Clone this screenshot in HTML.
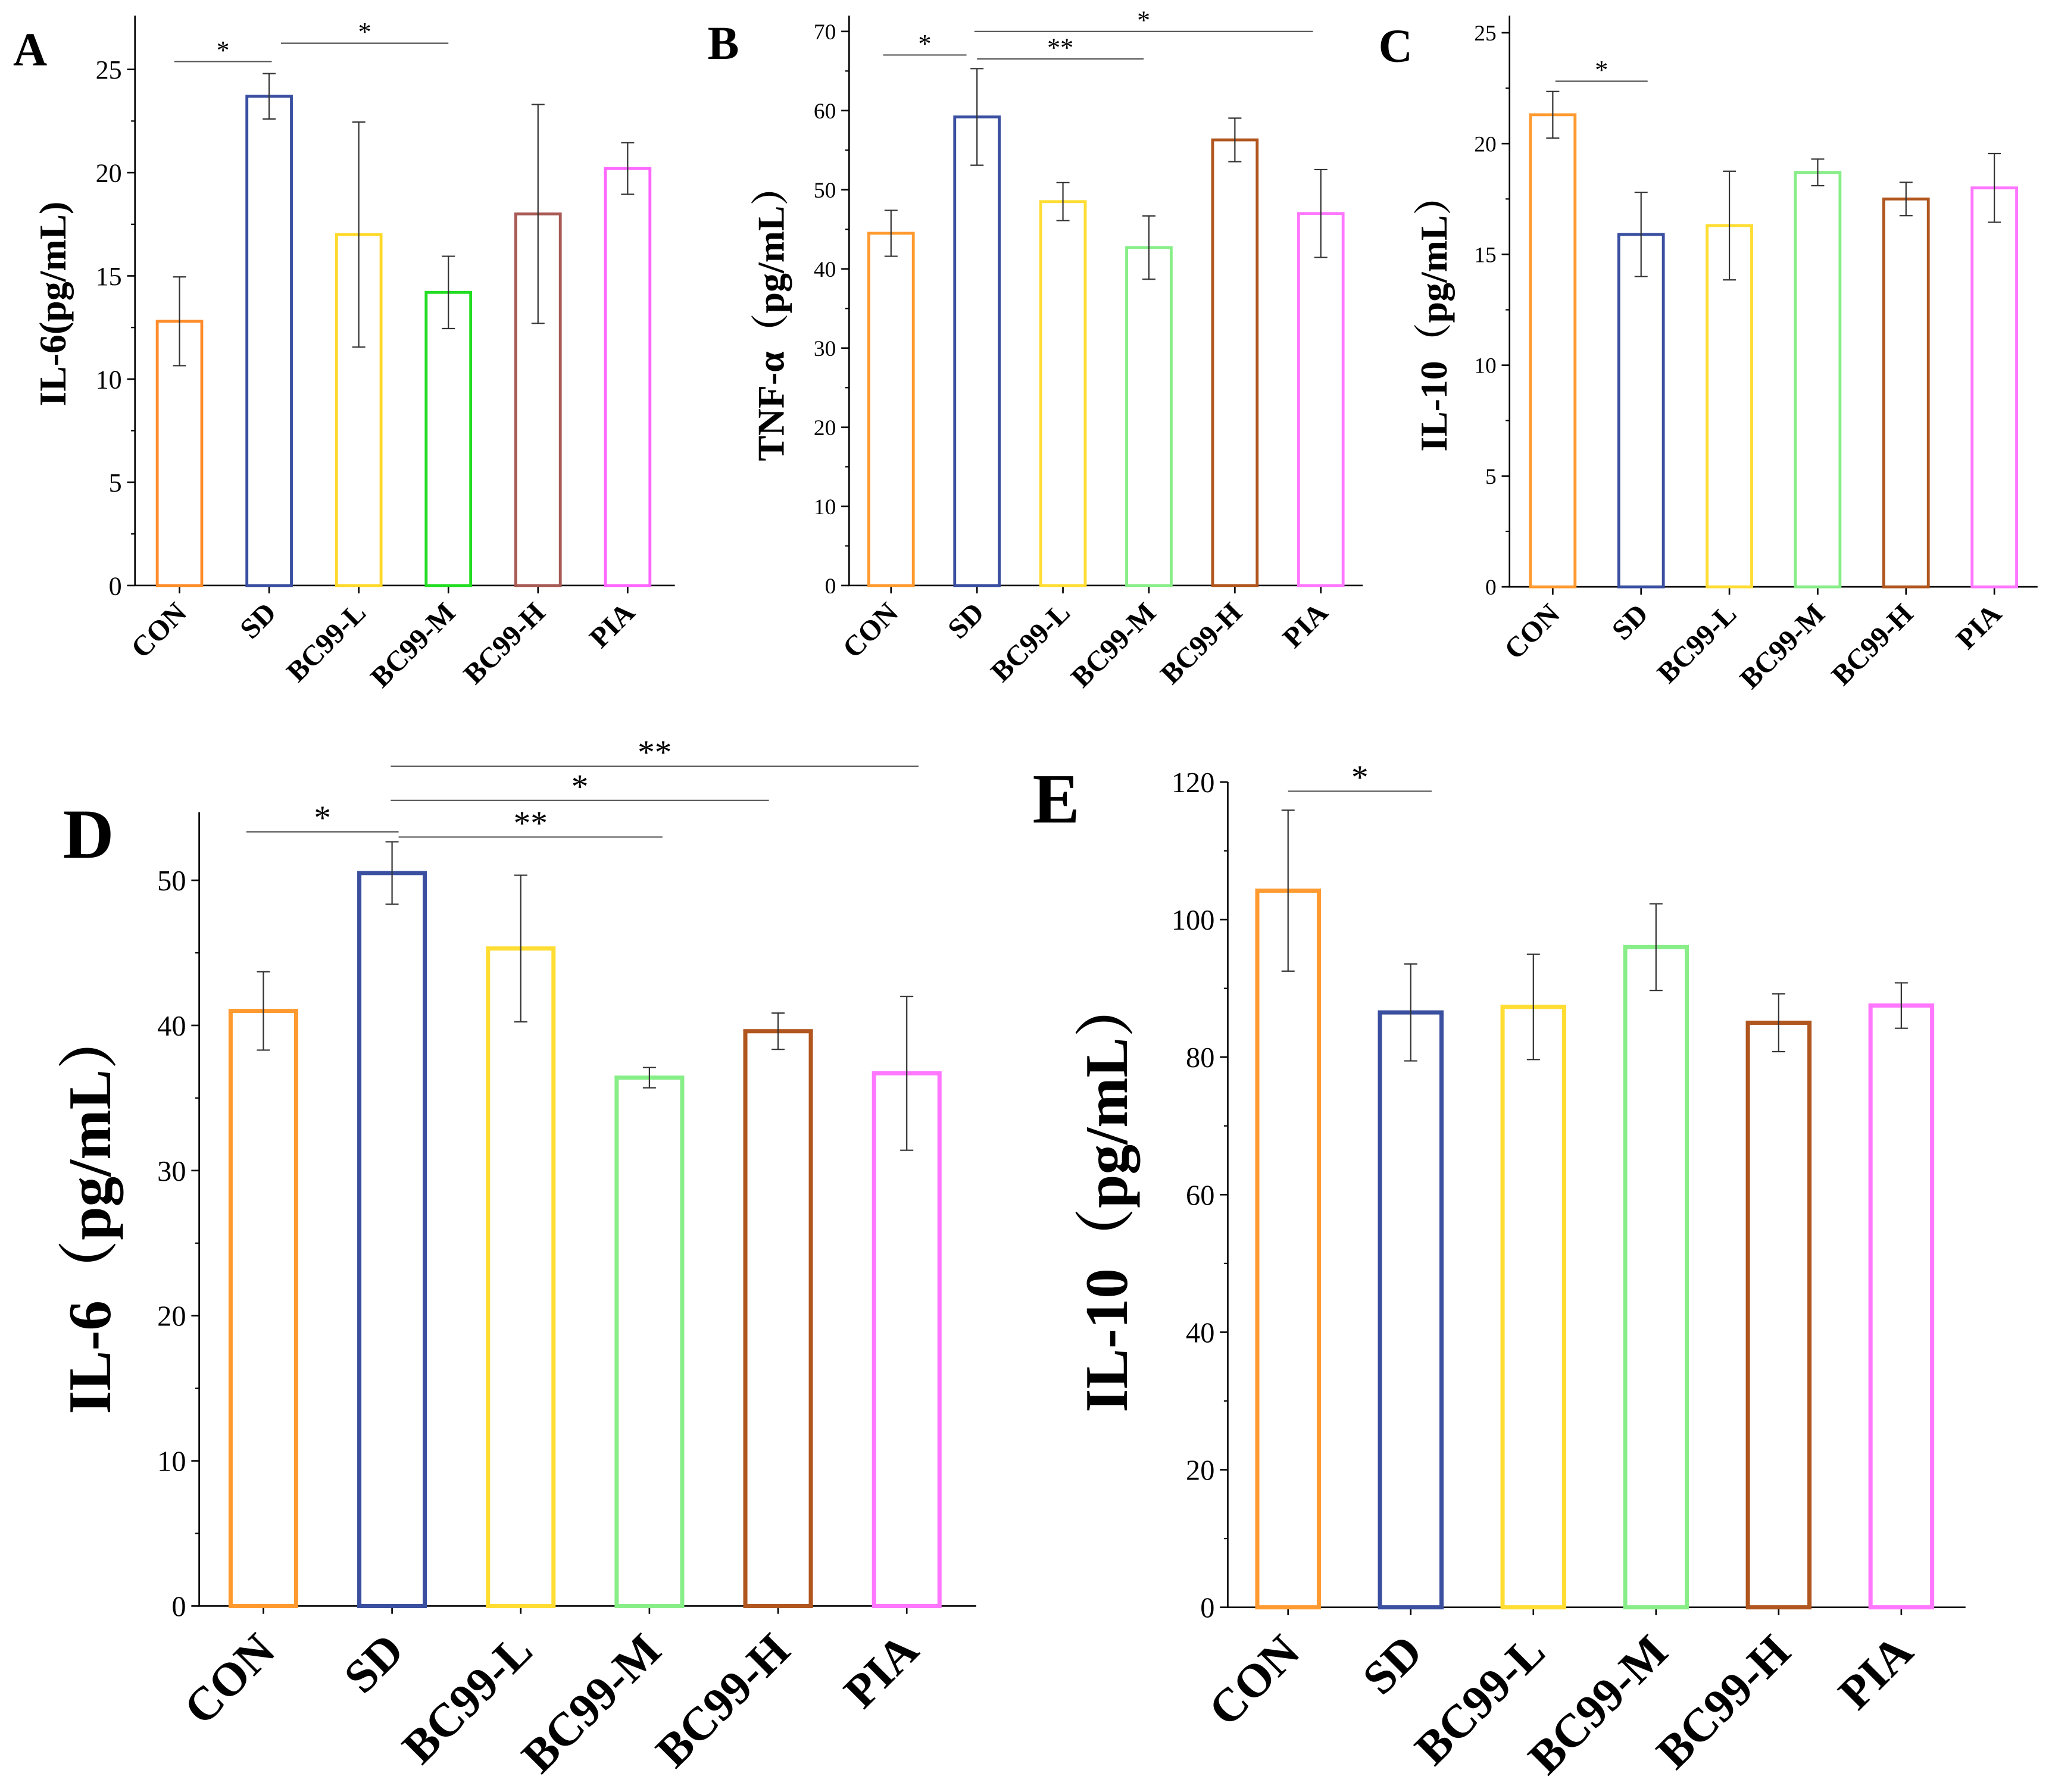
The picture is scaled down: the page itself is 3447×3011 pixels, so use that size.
<!DOCTYPE html>
<html><head><meta charset="utf-8"><style>
html,body{margin:0;padding:0;background:#fff}
svg{display:block}
text{font-family:"Liberation Serif","Noto Serif CJK SC",serif}
</style></head><body>
<svg id="fig" width="3447" height="3011" viewBox="0 0 1566 1368" preserveAspectRatio="none" xmlns="http://www.w3.org/2000/svg"></svg>
<script>
const categories = ["CON","SD","BC99-L","BC99-M","BC99-H","PIA"];
const aMeans = [12.8,23.7,17,14.2,18,20.2];
const aErr = [2.15,1.1,5.45,1.75,5.3,1.25];
const bMeans = [44.5,59.2,48.5,42.7,56.3,47];
const bErr = [2.9,6.1,2.4,4,2.75,5.55];
const cMeans = [21.3,15.9,16.3,18.7,17.5,18];
const cErr = [1.05,1.9,2.45,0.6,0.75,1.55];
const dMeans = [41,50.5,45.3,36.4,39.6,36.7];
const dErr = [2.7,2.15,5.05,0.7,1.25,5.3];
const eMeans = [104.2,86.5,87.3,96,85,87.5];
const eErr = [11.7,7.05,7.65,6.3,4.2,3.3];
const aTicks = [0,5,10,15,20,25];
const bTicks = [0,10,20,30,40,50,60,70];
const cTicks = [0,5,10,15,20,25];
const dTicks = [0,10,20,30,40,50];
const eTicks = [0,20,40,60,80,100,120];
const aSig = [[0,1,"*"],[1,3,"*"]];
const bSig = [[0,1,"*"],[1,3,"**"],[1,5,"*"]];
const cSig = [[0,1,"*"]];
const dSig = [[0,1,"*"],[1,3,"**"],[1,4,"*"],[1,5,"**"]];
const eSig = [[0,1,"*"]];

const NS="http://www.w3.org/2000/svg";
const svg=document.getElementById('fig');
function mk(tag,attrs,parent){const e=document.createElementNS(NS,tag);for(const k in attrs)e.setAttribute(k,attrs[k]);(parent||svg).appendChild(e);return e;}

function panel(p){
  const g=mk('g',{});
  
  
  const y=v=>p.y0-(v-p.ymin)/(p.ymax-p.ymin)*(p.y0-p.yTop);
  const x=i=>p.x0+p.first+i*p.step;
  const ax=mk('path',{d:`M${p.x0},${p.axisTop} V${p.y0} H${p.xEnd}`,stroke:'#000','stroke-width':1.2,fill:'none'},g);
  
  
  p.ticks.forEach((t,k)=>{
    mk('line',{x1:p.x0-6,x2:p.x0,y1:y(t),y2:y(t),stroke:'#000','stroke-width':1.2},g);
    if(k<p.ticks.length-1){const m=(y(t)+y(p.ticks[k+1]))/2;mk('line',{x1:p.x0-3,x2:p.x0,y1:m,y2:m,stroke:'#000','stroke-width':1},g);}
    const tl=mk('text',{x:p.x0-10,y:y(t)+p.tfs*0.35,'text-anchor':'end','font-size':p.tfs},g);
    tl.textContent=t;
    
    
  });
  categories.forEach((c,i)=>{
    mk('line',{x1:x(i),x2:x(i),y1:p.y0,y2:p.y0+6,stroke:'#000','stroke-width':1.2},g);
    const top=y(p.means[i]);
    const r=mk('rect',{x:x(i)-p.bw/2,y:top,width:p.bw,height:p.y0-top,fill:'none',stroke:p.colors[i],'stroke-width':p.sw},g);
    
    
    const e1=y(p.means[i]+p.err[i]),e2=y(p.means[i]-p.err[i]);
    const eb=mk('path',{d:`M${x(i)},${e1}V${e2}M${x(i)-5},${e1}H${x(i)+5}M${x(i)-5},${e2}H${x(i)+5}`,stroke:'#333','stroke-width':1,fill:'none'},g);
    
    
    const tx=x(i)+p.lfs*0.3, ty=p.y0+p.lfs*1.0;
    const xl=mk('text',{x:tx,y:ty,'text-anchor':'end','font-size':p.lfs,'font-weight':'bold',transform:`rotate(-45 ${tx} ${ty})`},g);
    xl.textContent=c;
    
    
  });
  p.sig.forEach((s,k)=>{
    const ly=p.sigY[k];
    const x1=x(s[0])+p.sigOff[k][0],x2=x(s[1])+p.sigOff[k][1];
    const l=mk('line',{x1:x1,x2:x2,y1:ly,y2:ly,stroke:'#555','stroke-width':1},g);
    
    
    const st=mk('text',{x:(x1+x2)/2,y:ly-2,'text-anchor':'middle','font-size':p.sfs},g);
    st.textContent=s[2];
    
    
  });
  const yt=mk('text',{x:p.ylx,y:p.yly,'text-anchor':'middle','font-size':p.yfs,'font-weight':'bold',transform:`rotate(-90 ${p.ylx} ${p.yly})`},g);
  yt.textContent=p.ylabel;
  
  
  const L=mk('text',{x:p.lx,y:p.ly,'font-size':p.Lfs,'font-weight':'bold'},g);
  L.textContent=p.letter;
  
  
}
const colA=['#ff8c2a','#3a4fa0','#ffd92a','#22dd22','#a85a55','#ff66ff'];
const colB=['#ff9a30','#3a4fa0','#ffdd33','#88ee88','#b0561e','#ff77ff'];
panel({letter:'A',means:aMeans,err:aErr,ticks:aTicks,sig:aSig,ymin:0,ymax:25,y0:447,yTop:53,axisTop:12,x0:103,xEnd:515,first:34,step:68.4,bw:34,sw:2.2,colors:colA,tfs:20,lfs:22,sfs:20,sigY:[47,33],sigOff:[[-4,2],[9,0]],ylabel:'IL-6(pg/mL)',ylx:50,yly:232,yfs:29,lx:10,ly:50,Lfs:36});
panel({letter:'B',means:bMeans,err:bErr,ticks:bTicks,sig:bSig,ymin:0,ymax:70,y0:447,yTop:24,axisTop:12,x0:648,xEnd:1040,first:32,step:65.6,bw:34,sw:2.2,colors:colB,tfs:17,lfs:22,sfs:20,sigY:[42,45,24],sigOff:[[-6,-8],[0,-4],[-2,-6]],ylabel:'TNF-α（pg/mL）',ylx:598,yly:240,yfs:29,lx:540,ly:45,Lfs:36});
panel({letter:'C',means:cMeans,err:cErr,ticks:cTicks,sig:cSig,ymin:0,ymax:25,y0:448,yTop:25,axisTop:12,x0:1152,xEnd:1555,first:33,step:67.4,bw:34,sw:2.2,colors:colB,tfs:17,lfs:22,sfs:20,sigY:[62],sigOff:[[2,5]],ylabel:'IL-10（pg/mL）',ylx:1104,yly:240,yfs:29,lx:1052,ly:47,Lfs:36});
panel({letter:'D',means:dMeans,err:dErr,ticks:dTicks,sig:dSig,ymin:0,ymax:50,y0:1226,yTop:672,axisTop:620,x0:152,xEnd:745,first:49,step:98.2,bw:50,sw:3.2,colors:colB,tfs:22,lfs:36,sfs:26,sigY:[635,639,611,585],sigOff:[[-13,5],[5,10],[-1,-7],[-1,9]],ylabel:'IL-6（pg/mL）',ylx:84,yly:925,yfs:46,lx:48,ly:655,Lfs:54});
panel({letter:'E',means:eMeans,err:eErr,ticks:eTicks,sig:eSig,ymin:0,ymax:120,y0:1227,yTop:597,axisTop:597,x0:937,xEnd:1500,first:46,step:93.6,bw:47,sw:3.2,colors:colB,tfs:22,lfs:36,sfs:26,sigY:[604],sigOff:[[0,16]],ylabel:'IL-10（pg/mL）',ylx:860,yly:912,yfs:46,lx:788,ly:628,Lfs:54});
</script>
</body></html>
